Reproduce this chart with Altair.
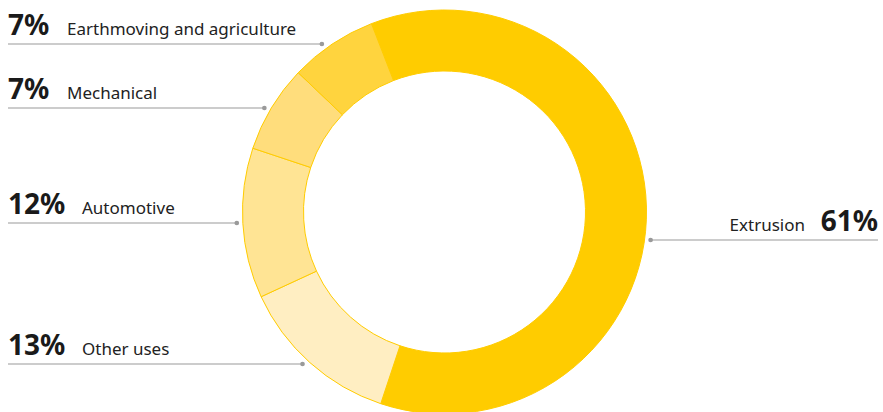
import math
import altair as alt
import pandas as pd

# ---- data ----
categories = ["Extrusion", "Other uses", "Automotive", "Mechanical", "Earthmoving and agriculture"]
shares = [61, 13, 12, 7, 7]
pct_labels = ["61%", "13%", "12%", "7%", "7%"]

# ---- styling / layout ----
colors = ["#FFCC00", "#FFEEC2", "#FFE494", "#FFDD7C", "#FFD43E"]
W, H = 883, 412
CX, CY = 444.5, 212.0
R_OUT, R_IN = 202, 141
R_DOT = 208
START = math.radians(-21.2) + 2 * math.pi
# y of each leader line (same order as categories)
line_y = [240, 364, 223, 108, 44]
side = ["right", "left", "left", "left", "left"]
label_x = [805, 82, 82, 67, 67]
LEFT_X, RIGHT_X = 8, 878

rows = []
for i, c in enumerate(categories):
    dy = line_y[i] - CY
    dx = math.sqrt(max(R_DOT ** 2 - dy ** 2, 0))
    dot_x = CX + dx if side[i] == "right" else CX - dx
    if side[i] == "right":
        x1, x2 = dot_x, RIGHT_X
        px = RIGHT_X
    else:
        x1, x2 = LEFT_X, dot_x
        px = LEFT_X
    rows.append(dict(category=c, share=shares[i], idx=i, pct=pct_labels[i],
                     side=side[i], ly=line_y[i], ty=line_y[i] - 9.5,
                     x1=x1, x2=x2, dot_x=dot_x, px=px, lx=label_x[i]))
df = pd.DataFrame(rows)

xs = alt.Scale(domain=[0, W], range=[0, W], nice=False, zero=False)
ys = alt.Scale(domain=[0, H], range=[0, H], nice=False, zero=False)

arc = alt.Chart(df).mark_arc(
    outerRadius=R_OUT, innerRadius=R_IN, stroke="#FFCC00", strokeWidth=1
).encode(
    theta=alt.Theta("share:Q", stack=True,
                    scale=alt.Scale(domain=[0, 100], range=[START, START + 2 * math.pi])),
    order=alt.Order("idx:Q"),
    color=alt.Color("category:N", scale=alt.Scale(domain=categories, range=colors), legend=None),
    x=alt.value(CX),
    y=alt.value(CY),
)

base = alt.Chart(df)

rules = base.mark_rule(color="#9a9a9a", strokeWidth=1.2).encode(
    x=alt.X("x1:Q", scale=xs, axis=None),
    x2="x2:Q",
    y=alt.Y("ly:Q", scale=ys, axis=None),
)

dots = base.mark_circle(color="#9a9a9a", size=22, opacity=1).encode(
    x=alt.X("dot_x:Q", scale=xs, axis=None),
    y=alt.Y("ly:Q", scale=ys, axis=None),
)

left = base.transform_filter(alt.datum.side == "left")
right = base.transform_filter(alt.datum.side == "right")

pct_left = left.mark_text(align="left", baseline="alphabetic", font="Noto Sans",
                          fontWeight="bold", fontSize=28, color="#1a1a1a").encode(
    x=alt.X("px:Q", scale=xs, axis=None), y=alt.Y("ty:Q", scale=ys, axis=None), text="pct:N")
lab_left = left.mark_text(align="left", baseline="alphabetic", font="Noto Sans",
                          fontSize=17, color="#222222").encode(
    x=alt.X("lx:Q", scale=xs, axis=None), y=alt.Y("ty:Q", scale=ys, axis=None), text="category:N")
pct_right = right.mark_text(align="right", baseline="alphabetic", font="Noto Sans",
                            fontWeight="bold", fontSize=28, color="#1a1a1a").encode(
    x=alt.X("px:Q", scale=xs, axis=None), y=alt.Y("ty:Q", scale=ys, axis=None), text="pct:N")
lab_right = right.mark_text(align="right", baseline="alphabetic", font="Noto Sans",
                            fontSize=17, color="#222222").encode(
    x=alt.X("lx:Q", scale=xs, axis=None), y=alt.Y("ty:Q", scale=ys, axis=None), text="category:N")

chart = alt.layer(arc, rules, dots, pct_left, lab_left, pct_right, lab_right).properties(
    width=W, height=H, padding=0, autosize=alt.AutoSizeParams(type="none")
).configure_view(stroke=None).resolve_scale(x="shared", y="shared")

chart.save("out.html", embed_options={"renderer": "svg", "actions": False})
